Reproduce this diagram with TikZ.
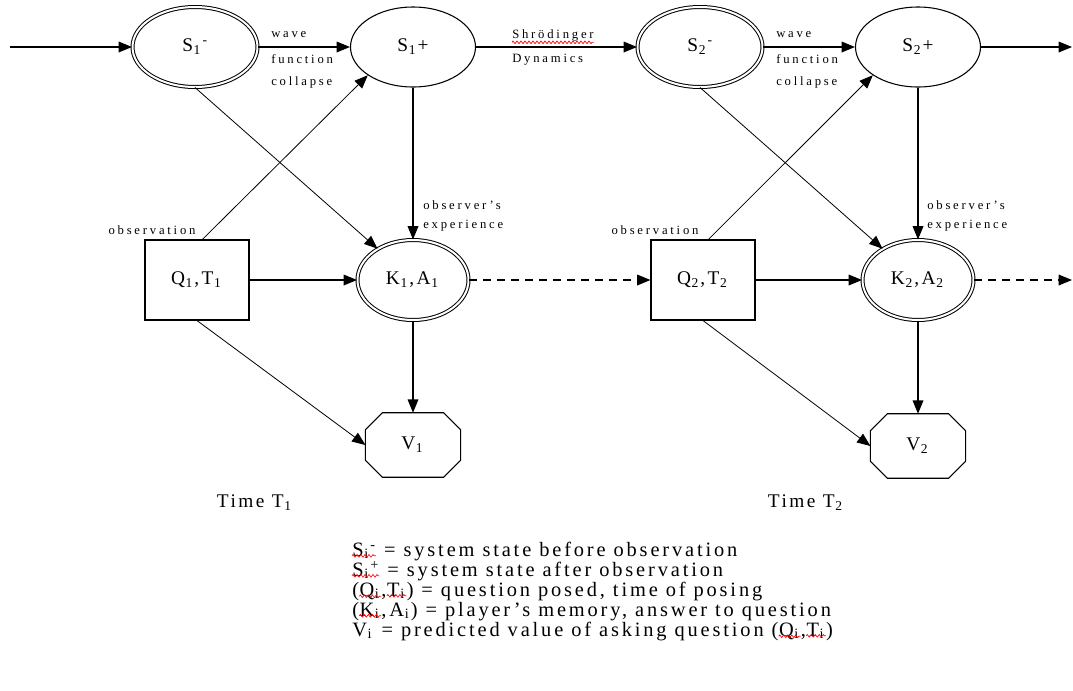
\documentclass[tikz,border=0pt]{standalone}
\usepackage{fontspec}
\setmainfont{Liberation Serif}
\newfontfamily\smallfont[LetterSpace=22]{Liberation Serif}
\newfontfamily\widefont[LetterSpace=13]{Liberation Serif}
\newfontfamily\legfont[LetterSpace=14]{Liberation Serif}
\usetikzlibrary{arrows.meta,shapes.geometric,decorations.pathmorphing}
\newcommand{\sbs}[1]{\textsubscript{\kern0.5pt#1\kern1pt}}
\begin{document}
\begin{tikzpicture}[x=0.75pt,y=-0.75pt,
  lbl/.style={font=\widefont\fontsize{14.5}{16}\selectfont},
  leg/.style={font=\legfont\fontsize{15.3}{16}\selectfont, inner sep=0pt, anchor=base west},
  small/.style={font=\smallfont\fontsize{9.5}{11}\selectfont, inner sep=0pt},
  ell/.style={ellipse, draw, line width=0.8pt, minimum width=93.75pt, minimum height=60pt, inner sep=0pt, lbl},
  dell/.style={ell, double, double distance=1.5pt, line width=0.75pt},
  kell/.style={dell, minimum width=83.25pt},
  qbox/.style={rectangle, draw, line width=0.8pt, minimum width=78pt, minimum height=60pt, lbl},
  vbox/.style={rectangle, minimum width=71pt, minimum height=48pt, lbl},
  arr/.style={-{Triangle[length=10pt,width=8pt]}, line width=0.9pt},
  darr/.style={arr, dashed, dash pattern=on 6pt off 4.5pt},
  thin arr/.style={arr, line width=0.6pt},
  wave/.style={red, line width=0.5pt, decorate, decoration={zigzag, amplitude=1pt, segment length=3pt}}
]
\useasboundingbox (0,0) rectangle (1073,690);

% top row
\node[dell] (S1m) at (195,47) {S\sbs{1}\textsuperscript{-}};
\node[ell]  (S1p) at (413,47) {S\sbs{1}+};
\node[dell] (S2m) at (700,47) {S\sbs{2}\textsuperscript{-}};
\node[ell]  (S2p) at (918,47) {S\sbs{2}+};
\coordinate (in) at (10,47);
\coordinate (out) at (1072,47);

% middle row
\node[qbox] (Q1) at (197,280) {Q\sbs{1},T\sbs{1}};
\node[kell] (K1) at (413,280) {K\sbs{1},A\sbs{1}};
\node[qbox] (Q2) at (703,280) {Q\sbs{2},T\sbs{2}};
\node[kell] (K2) at (918,280) {K\sbs{2},A\sbs{2}};
\coordinate (dout) at (1072,280);

% bottom octagons
\node[vbox] (V1) at (413,445) {V\sbs{1}};
\node[vbox] (V2) at (918,446) {V\sbs{2}};
\foreach \v in {V1,V2}{
  \draw[line width=0.8pt] ([xshift=12.75pt]\v.north west) -- ([xshift=-12.75pt]\v.north east)
    -- ([yshift=-12.75pt]\v.north east) -- ([yshift=12.75pt]\v.south east)
    -- ([xshift=-12.75pt]\v.south east) -- ([xshift=12.75pt]\v.south west)
    -- ([yshift=12.75pt]\v.south west) -- ([yshift=-12.75pt]\v.north west) -- cycle;
}

% horizontal connectors
\draw[arr] (in) -- (S1m);
\draw[arr] (S1m) -- (S1p);
\draw[arr] (S1p) -- (S2m);
\draw[arr] (S2m) -- (S2p);
\draw[arr] (S2p) -- (out);
\draw[arr] (Q1) -- (K1);
\draw[darr] (K1) -- (Q2);
\draw[arr] (Q2) -- (K2);
\draw[darr] (K2) -- (dout);

% vertical connectors
\draw[arr] (S1p.south) -- (K1.north);
\draw[arr] (S2p.south) -- (K2.north);
\draw[arr] (K1.south) -- (V1.north);
\draw[arr] (K2.south) -- (V2.north);

% diagonals
\draw[thin arr] (S1m.south) -- (K1);
\draw[thin arr] (S2m.south) -- (K2);
\draw[thin arr] ([xshift=4pt]Q1.north) -- (S1p.-148);
\draw[thin arr] ([xshift=4pt]Q2.north) -- (S2p.-148);
\draw[thin arr] (Q1.south) -- (V1.west);
\draw[thin arr] (Q2.south) -- (V2.west);

% small labels
\node[small, anchor=west] (wa1) at (271,35) {wave};
\node[small, anchor=west] (wb1) at (271,59) {function};
\node[small, anchor=west] (wc1) at (271,82) {collapse};
\node[small, anchor=west] (wa2) at (776,35) {wave};
\node[small, anchor=west] (wb2) at (776,59) {function};
\node[small, anchor=west] (wc2) at (776,82) {collapse};
\node[small, anchor=west] (sh) at (512,35) {Shrödinger};
\draw[wave] ([yshift=-1pt]sh.south west) -- ([yshift=-1pt]sh.south east);
\node[small, anchor=west] (dy) at (512,60) {Dynamics};
\node[small] (ob1) at (152,230) {observation};
\node[small] (ob2) at (655,230) {observation};
\node[small, anchor=west] (oe1) at (423,205) {observer’s};
\node[small, anchor=west] (ox1) at (423,226) {experience};
\node[small, anchor=west] (oe2) at (927,205) {observer’s};
\node[small, anchor=west] (ox2) at (927,226) {experience};

% time labels
\node[lbl] (t1) at (255,503) {Time T\sbs{1}};
\node[lbl] (t2) at (806,503) {Time T\sbs{2}};

% legend
\node[leg] (a1) at (352,556) {S\sbs{i}\textsuperscript{-}};
\node[leg] (a2) at (a1.base east) {\ = system state before observation};
\node[leg] (b1) at (352,576) {S\sbs{i}\textsuperscript{+}};
\node[leg] (b2) at (b1.base east) {\ = system state after observation};
\node[leg] (c1) at (352,596) {(};
\node[leg] (c2) at (c1.base east) {Q\sbs{i}};
\node[leg] (c3) at (c2.base east) {,};
\node[leg] (c4) at (c3.base east) {T\sbs{i}};
\node[leg] (c5) at (c4.base east) {) = question posed, time of posing};
\node[leg] (d1) at (352,616) {(};
\node[leg] (d2) at (d1.base east) {K\sbs{i}};
\node[leg] (d3) at (d2.base east) {,A\sbs{i}) = player’s memory, answer to question};
\node[leg] (e1) at (352,636) {V\sbs{i} = predicted value of asking question (};
\node[leg] (e2) at (e1.base east) {Q\sbs{i}};
\node[leg] (e3) at (e2.base east) {,};
\node[leg] (e4) at (e3.base east) {T\sbs{i}};
\node[leg] (e5) at (e4.base east) {)};
\foreach \w in {a1,b1,c2,c4,d2,e2,e4}{
  \draw[wave] ([yshift=2.5pt]\w.south west) -- ([yshift=2.5pt]\w.south east);
}
\end{tikzpicture}
\end{document}
